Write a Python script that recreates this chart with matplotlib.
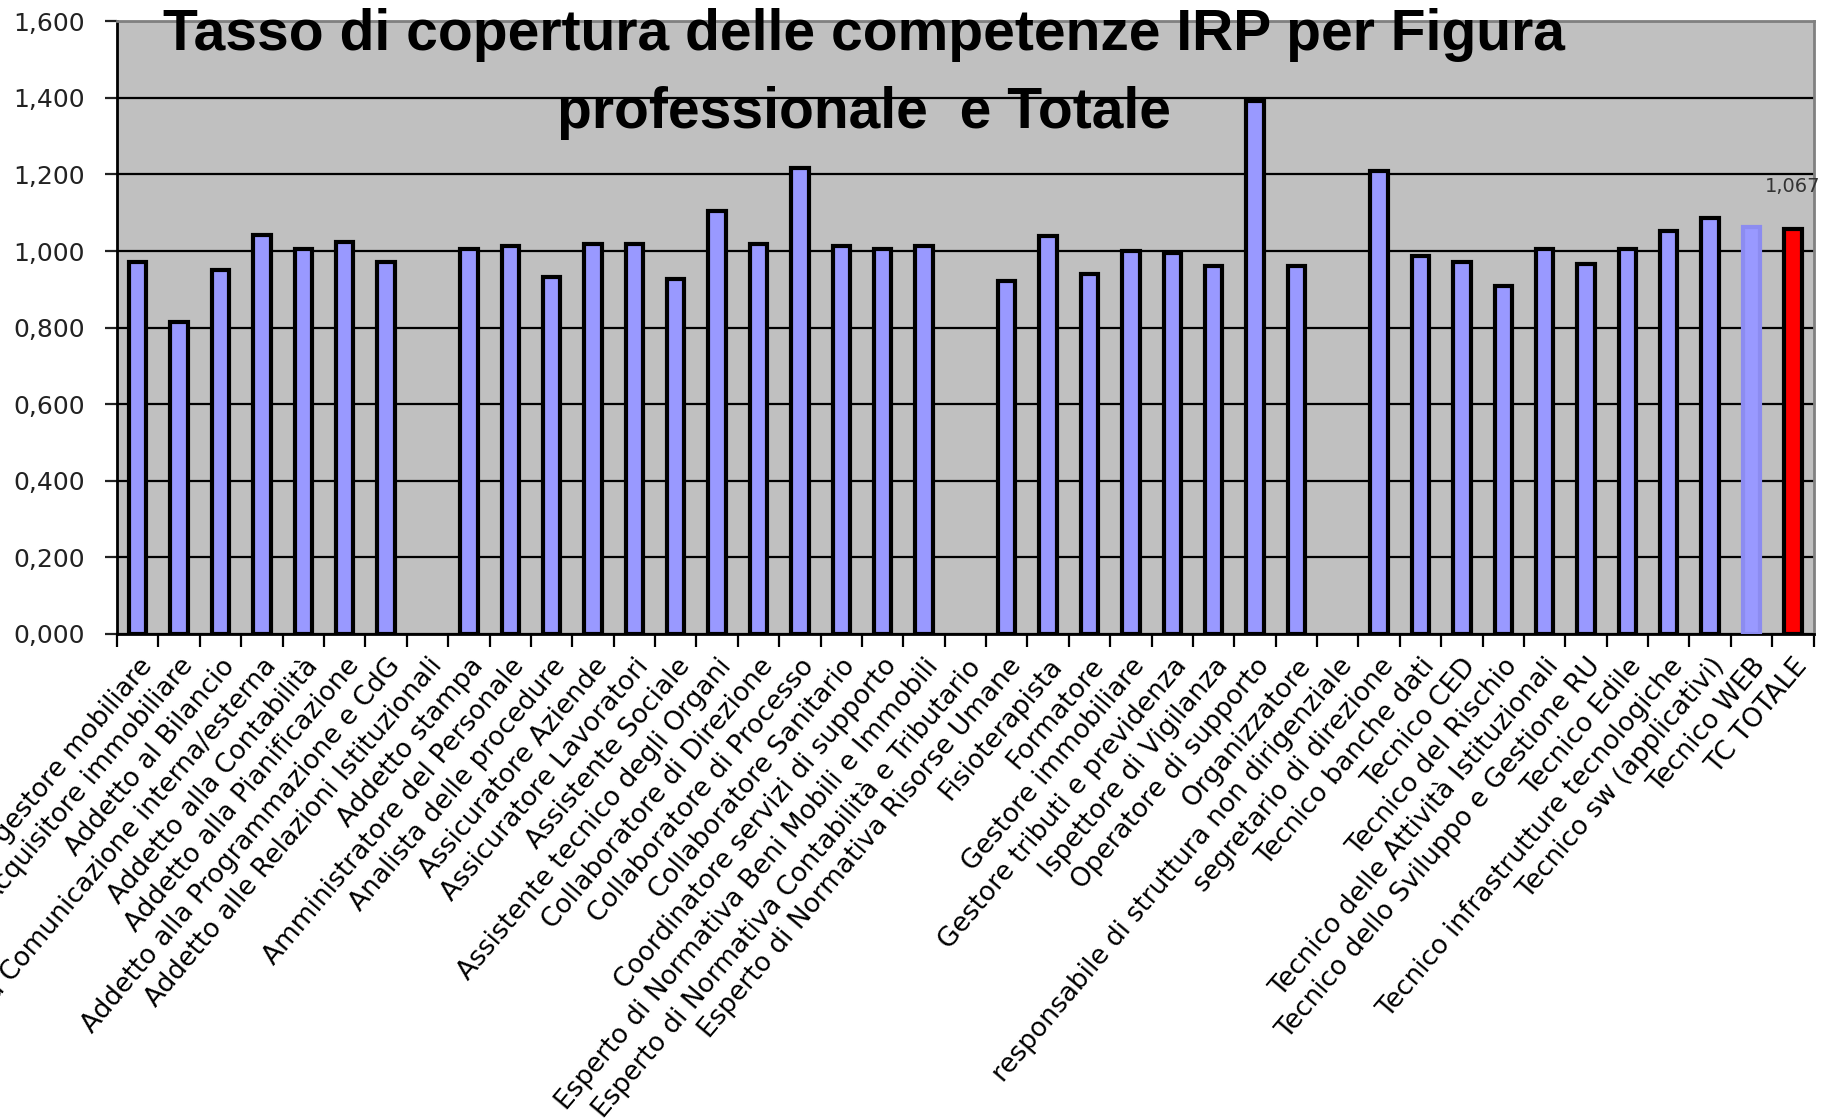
import matplotlib
matplotlib.use("Agg")
import matplotlib.pyplot as plt
import numpy as np
from matplotlib.ticker import FuncFormatter, MultipleLocator

OUT = "out.png"

figure = [
    "Acquisitore gestore mobiliare", "Acquisitore immobiliare", "Addetto al Bilancio",
    "Addetto alla Comunicazione interna/esterna", "Addetto alla Contabilità",
    "Addetto alla Pianificazione", "Addetto alla Programmazione e CdG",
    "Addetto alle Relazioni Istituzionali", "Addetto stampa",
    "Amministratore del Personale", "Analista delle procedure", "Assicuratore Aziende",
    "Assicuratore Lavoratori", "Assistente Sociale", "Assistente tecnico degli Organi",
    "Collaboratore di Direzione", "Collaboratore di Processo", "Collaboratore Sanitario",
    "Coordinatore servizi di supporto", "Esperto di Normativa Beni Mobili e Immobili",
    "Esperto di Normativa Contabilità e Tributario", "Esperto di Normativa Risorse Umane",
    "Fisioterapista", "Formatore", "Gestore immobiliare", "Gestore tributi e previdenza",
    "Ispettore di Vigilanza", "Operatore di supporto", "Organizzatore",
    "responsabile di struttura non dirigenziale", "segretario di direzione",
    "Tecnico banche dati", "Tecnico CED", "Tecnico del Rischio",
    "Tecnico delle Attività Istituzionali", "Tecnico dello Sviluppo e Gestione RU",
    "Tecnico Edile", "Tecnico infrastrutture tecnologiche", "Tecnico sw (applicativi)",
    "Tecnico WEB", "TC TOTALE",
]
tasso = [
    0.972, 0.814, 0.951, 1.043, 1.006, 1.024, 0.972, 0.0, 1.006, 1.012,
    0.933, 1.018, 1.018, 0.927, 1.104, 1.018, 1.216, 1.012, 1.006, 1.012,
    0.0, 0.921, 1.040, 0.939, 1.000, 0.994, 0.960, 1.393, 0.960, 0.0,
    1.210, 0.988, 0.972, 0.909, 1.006, 0.966, 1.006, 1.052, 1.085, 1.064,
    1.058,
]
etichetta_totale = "1,067"

BLUE = "#9999ff"
RED = "#ff0000"
GREY_BG = "#c0c0c0"

x = np.arange(len(figure))
colors = [BLUE] * len(figure)
colors[-1] = RED
edges = ["black" if v > 0 else "none" for v in tasso]
edges[-2] = "#8c8cf0"   # Tecnico WEB drawn without the black outline

fig = plt.figure(figsize=(18.3, 11.2), dpi=100)
ax = fig.add_axes([0.064, 0.434, 0.927, 0.547])
ax.set_facecolor(GREY_BG)

ax.bar(x, tasso, 0.42, color=colors, edgecolor=edges, linewidth=3, zorder=3)

ax.set_xlim(-0.5, len(figure) - 0.5)
ax.set_ylim(0, 1.6)
ax.yaxis.set_major_locator(MultipleLocator(0.2))
ax.yaxis.set_major_formatter(FuncFormatter(lambda v, p: f"{v:.3f}".replace(".", ",")))
ax.grid(axis="y", color="black", linewidth=1.6, zorder=1)
ax.set_axisbelow(True)

ax.set_xticks(x)
ax.set_xticklabels(figure, rotation=50, ha="right", va="top",
                   rotation_mode="anchor", fontsize=19)
ax.set_xticks(np.arange(len(figure) + 1) - 0.5, minor=True)
ax.tick_params(axis="x", which="major", length=0, pad=14)
ax.tick_params(axis="x", which="minor", length=9, width=1.6, color="black")
ax.tick_params(axis="y", length=9, width=1.6, labelsize=18, colors="#222222", pad=14)

for sp in ("top", "right"):
    ax.spines[sp].set_color("#808080")
    ax.spines[sp].set_linewidth(2)
for sp in ("left", "bottom"):
    ax.spines[sp].set_color("black")
    ax.spines[sp].set_linewidth(2)

ax.text(x[-1], 1.168, etichetta_totale, ha="center", va="center", fontsize=14,
        color="#333333")

fig.text(0.472, 0.934, "Tasso di copertura delle competenze IRP per Figura\nprofessionale  e Totale",
         ha="center", va="center", fontsize=41, fontweight="bold",
         family=["Liberation Sans", "DejaVu Sans"], linespacing=1.58,
         multialignment="center")

fig.savefig(OUT, dpi=100, facecolor="white")
